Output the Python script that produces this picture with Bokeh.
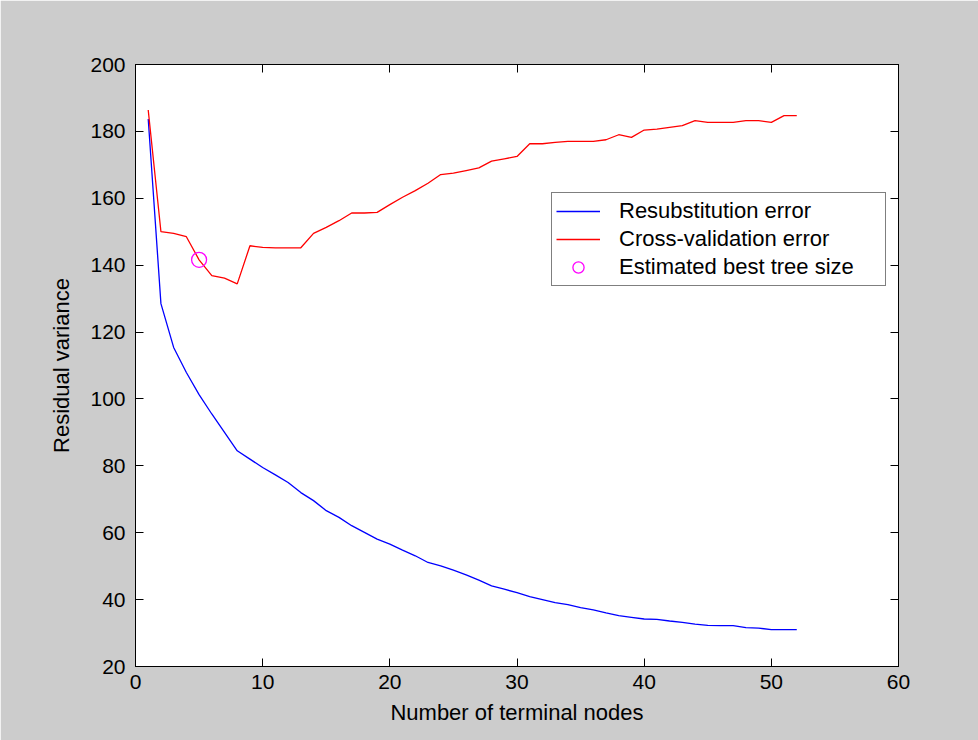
from bokeh.plotting import figure
from bokeh.models import LinearAxis, Legend, LegendItem, Range1d, FixedTicker, CustomJSTickFormatter
from bokeh.embed import file_html
from bokeh.resources import INLINE

nodes = list(range(1, 53))
resub_error = [183.7, 128.5, 115.4, 107.9, 101.3, 95.5, 90.0, 84.5, 82.0, 79.5,
               77.3, 75.0, 72.0, 69.6, 66.6, 64.6, 62.1, 60.1, 58.1, 56.6,
               54.8, 53.1, 51.1, 50.1, 48.8, 47.4, 45.8, 44.1, 43.1, 42.1,
               40.9, 40.0, 39.1, 38.5, 37.6, 36.9, 36.0, 35.2, 34.7, 34.2,
               34.1, 33.6, 33.2, 32.7, 32.3, 32.2, 32.2, 31.6, 31.5, 31.0,
               31.0, 31.0]
cv_error = [186.4, 150.0, 149.5, 148.5, 141.6, 136.9, 136.1, 134.4, 145.8, 145.3,
            145.2, 145.2, 145.2, 149.5, 151.3, 153.3, 155.6, 155.6, 155.8, 158.1,
            160.3, 162.3, 164.5, 167.1, 167.5, 168.3, 169.1, 171.1, 171.8, 172.5,
            176.3, 176.3, 176.7, 177.0, 177.0, 177.0, 177.5, 179.0, 178.2, 180.4,
            180.7, 181.2, 181.7, 183.2, 182.7, 182.7, 182.7, 183.2, 183.2, 182.7,
            184.7, 184.7]
best_size = [5]
best_value = [141.6]

x_ticks = [0, 10, 20, 30, 40, 50, 60]
y_ticks = [20, 40, 60, 80, 100, 120, 140, 160, 180, 200]

FONT = "Liberation Sans"
BG = "#cccccc"

p = figure(width=978, height=740, output_backend="svg", toolbar_location=None,
           x_range=Range1d(0, 60), y_range=Range1d(20, 200),
           min_border_left=135, min_border_right=80, min_border_top=64, min_border_bottom=74)
p.border_fill_color = BG
p.background_fill_color = "white"
p.outline_line_color = "black"
p.outline_line_width = 1
p.xgrid.visible = False
p.ygrid.visible = False

for ax, ticks in ((p.xaxis[0], x_ticks), (p.yaxis[0], y_ticks)):
    ax.ticker = FixedTicker(ticks=ticks)
    ax.major_tick_in = 8
    ax.major_tick_out = 0
    ax.minor_tick_line_color = None
    ax.axis_line_color = "black"
    ax.major_tick_line_color = "black"
    ax.major_label_text_font = FONT
    ax.major_label_text_font_size = "21px"
    ax.major_label_text_color = "black"
    ax.axis_label_text_font = FONT
    ax.axis_label_text_font_size = "22px"
    ax.axis_label_text_font_style = "normal"
    ax.axis_label_text_color = "black"

p.xaxis[0].axis_label = "Number of terminal nodes"
p.yaxis[0].axis_label = "Residual variance"
p.xaxis[0].major_label_standoff = 8
p.yaxis[0].major_label_standoff = 10
p.xaxis[0].axis_label_standoff = 8
p.yaxis[0].axis_label_standoff = 13

blank = CustomJSTickFormatter(code="return ''")
for loc, ticks in (("right", y_ticks), ("above", x_ticks)):
    ax = LinearAxis(ticker=FixedTicker(ticks=ticks), formatter=blank)
    ax.major_tick_in = 8
    ax.major_tick_out = 0
    ax.minor_tick_line_color = None
    ax.axis_line_color = "black"
    ax.major_tick_line_color = "black"
    ax.major_label_standoff = 0
    p.add_layout(ax, loc)

r1 = p.line(nodes, resub_error, line_color="#0000ff", line_width=1.3)
r2 = p.line(nodes, cv_error, line_color="#ff0000", line_width=1.3)
r3 = p.scatter(best_size, best_value, marker="circle", size=15, fill_color=None,
               line_color="#ff00ff", line_width=1.3)

legend = Legend(items=[
    LegendItem(label="Resubstitution error", renderers=[r1]),
    LegendItem(label="Cross-validation error", renderers=[r2]),
    LegendItem(label="Estimated best tree size", renderers=[r3]),
], location=(416, 380))
legend.margin = 0
legend.padding = 4
legend.spacing = 0
legend.glyph_width = 44
legend.glyph_height = 28
legend.label_height = 28
legend.label_width = 262
legend.label_standoff = 19
legend.label_text_font = FONT
legend.label_text_font_size = "22px"
legend.label_text_color = "black"
legend.border_line_color = "black"
legend.border_line_width = 1
legend.background_fill_color = "white"
legend.background_fill_alpha = 1
p.add_layout(legend, "center")

open("out.html", "w").write(file_html(p, INLINE))
